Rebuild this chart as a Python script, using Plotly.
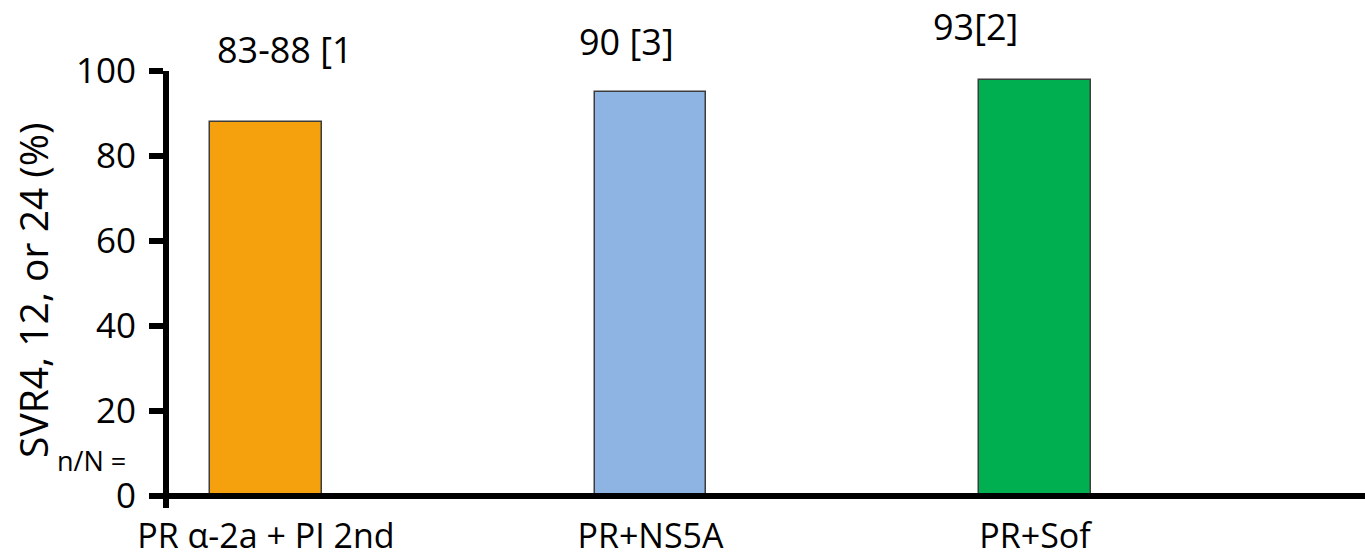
import plotly.graph_objects as go

# Regimens and sustained virologic response rates (%)
regimens = ["PR α-2a + PI 2nd", "PR+NS5A", "PR+Sof"]
svr_rates = [88, 95, 98]
bar_colors = ["#F5A10D", "#8EB4E3", "#00AF50"]

# Reported SVR ranges with reference numbers, printed above the bars
summary_labels = ["83-88 [1", "90 [3]", "93[2]"]

y_ticks = [0, 20, 40, 60, 80, 100]

FONT = "Open Sans"

fig = go.Figure(
    go.Bar(
        x=regimens,
        y=svr_rates,
        width=0.29,
        marker=dict(color=bar_colors, line=dict(color="#3C3C3C", width=1.5)),
        showlegend=False,
    )
)

fig.update_layout(
    width=1365,
    height=557,
    margin=dict(l=169, r=0, t=71, b=49),
    paper_bgcolor="white",
    plot_bgcolor="white",
    font=dict(family=FONT, color="black"),
    bargap=0,
)

fig.update_xaxes(
    range=[-0.252, 2.858],
    showline=False,
    showgrid=False,
    zeroline=False,
    ticks="",
    tickfont=dict(size=34, family=FONT),
    ticklabelstandoff=5,
    automargin=False,
)

fig.update_yaxes(
    range=[-2.8, 100],
    tickvals=y_ticks,
    ticktext=[str(v) for v in y_ticks],
    showgrid=False,
    zeroline=False,
    showline=True,
    linecolor="black",
    linewidth=6,
    ticks="outside",
    ticklen=14,
    tickwidth=6,
    tickcolor="black",
    tickfont=dict(size=35, family=FONT),
    ticklabelstandoff=6,
    automargin=False,
)

# Baseline across the full width at 0 %
fig.add_shape(
    type="line", xref="paper", yref="y",
    x0=0, x1=1, y0=0, y1=0,
    line=dict(color="black", width=6),
)

# Summary labels above the bars
label_x = [0.0966, 0.3825, 0.674]
label_y = [1.050, 1.0686, 1.1007]
for text, lx, ly in zip(summary_labels, label_x, label_y):
    fig.add_annotation(
        text=text, xref="paper", yref="paper", x=lx, y=ly,
        xanchor="center", yanchor="middle", showarrow=False,
        font=dict(size=36, family=FONT, color="black"),
    )

# Y-axis title
fig.add_annotation(
    text="SVR4, 12, or 24 (%)", xref="paper", yref="paper",
    x=-0.1137, y=0.499, textangle=-90,
    xanchor="center", yanchor="middle", showarrow=False,
    font=dict(size=39, family=FONT, color="black"),
)

# Row label for patient counts
fig.add_annotation(
    text="n/N =", xref="paper", yref="paper",
    x=-0.0644, y=0.1076, xanchor="center", yanchor="middle",
    showarrow=False, font=dict(size=27, family=FONT, color="black"),
)

fig.write_html("out.html")
